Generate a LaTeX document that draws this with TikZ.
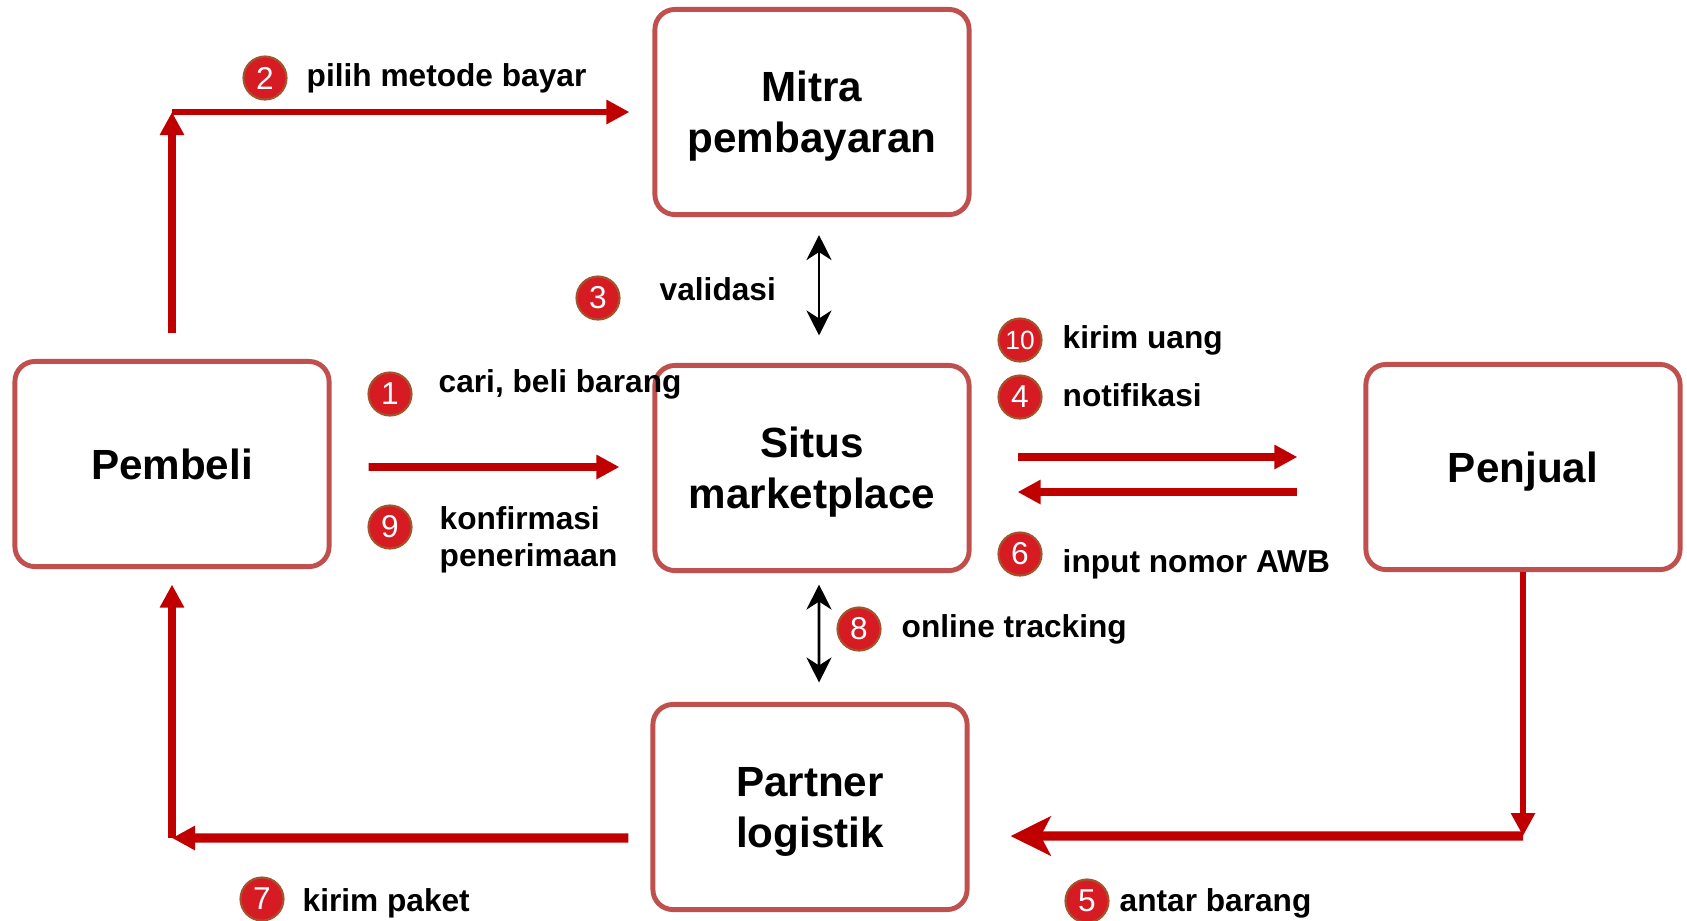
\documentclass[tikz,border=0pt]{standalone}
\usepackage{fontspec}
\setmainfont{Liberation Sans}
\usepackage{xcolor}
\usetikzlibrary{arrows.meta}
\usetikzlibrary{positioning}
\definecolor{boxred}{RGB}{192,80,77}
\definecolor{arrred}{RGB}{192,0,0}
\definecolor{badgered}{RGB}{215,27,35}
\definecolor{badgeline}{RGB}{163,84,45}
\tikzset{
  box/.style={draw=boxred,line width=1.4pt,rounded corners=0.2cm,minimum width=3.14cm,minimum height=2.05cm,align=center,text depth=0pt,font=\bfseries\fontsize{12}{14.5}\selectfont},
  badge/.style={circle,fill=badgered,draw=badgeline,line width=0.6pt,minimum size=0.43cm,inner sep=0pt,text=white,font=\fontsize{9}{10}\selectfont},
  lbl/.style={anchor=base west,inner sep=0pt,align=left,font=\bfseries\fontsize{9}{10.3}\selectfont},
  tri/.style={-{Triangle[length=0.23cm,width=0.23cm]}},
  flow/.style={draw=arrred,line width=2.2pt,tri},
  bigflow/.style={draw=arrred,line width=2.6pt,-{Stealth[length=0.4cm,width=0.39cm,inset=0.1cm]}},
  dbl/.style={draw=black,line width=0.8pt,{Stealth[length=0.25cm,width=0.25cm,inset=0.08cm]}-{Stealth[length=0.25cm,width=0.25cm,inset=0.08cm]}}
}
\begin{document}
\begin{tikzpicture}[x=0.01cm,y=-0.01cm]
\useasboundingbox (0,0) rectangle (1687,920);
\node[box] (mitra) at (812,112) {Mitra\\pembayaran};
\node[box] (pembeli) at (172,464) {Pembeli};
\node[box] (situs) at (812,468) {Situs\\marketplace};
\node[box] (penjual) at (1523,467) {Penjual};
\node[box] (partner) at (810,807) {Partner\\logistik};
\coordinate (kiriatas) at (172,112);
\coordinate (kiribawah) at (172,838);
\coordinate (kananbawah) at (1523,836);
\draw[flow,line width=2pt] ([yshift=0.255cm]pembeli.north) to (kiriatas);
\draw[flow,line width=1.7pt] (kiriatas) to ([xshift=-0.23cm]mitra.west);
\draw[flow] ([xshift=0.37cm,yshift=-0.03cm]pembeli.east) to ([xshift=-0.33cm,yshift=0.01cm]situs.west);
\draw[flow] ([xshift=0.46cm,yshift=0.11cm]situs.east) to ([xshift=-0.66cm,yshift=0.1cm]penjual.west);
\draw[flow] ([xshift=-0.66cm,yshift=-0.25cm]penjual.west) to ([xshift=0.46cm,yshift=-0.24cm]situs.east);
\draw[dbl] ([xshift=0.07cm,yshift=-0.18cm]mitra.south) to ([xshift=0.07cm,yshift=0.275cm]situs.north);
\draw[dbl] ([xshift=0.07cm,yshift=-0.115cm]situs.south) to ([xshift=0.09cm,yshift=0.195cm]partner.north);
\draw[bigflow] (kananbawah) to ([xshift=0.41cm,yshift=-0.29cm]partner.east);
\draw[flow,line width=1.8pt] (penjual.south) to (kananbawah);
\draw[flow,line width=2.6pt] ([xshift=-0.22cm,yshift=-0.31cm]partner.west) to (kiribawah);
\draw[flow,line width=2pt] (kiribawah) to ([yshift=-0.155cm]pembeli.south);
\node[badge] (n1) at (390,394) {1};
\node[lbl] (t1) at (438,392) {cari, beli barang};
\node[badge] (n2) at (265,78) {2};
\node[lbl] (t2) at (306,86) {pilih metode bayar};
\node[badge] (n3) at (598,298) {3};
\node[lbl] (t3) at (659,300) {validasi};
\node[badge] (n4) at (1020,397) {4};
\node[lbl] (t4) at (1062,406) {notifikasi};
\node[badge] (n5) at (1087,901) {5};
\node[lbl] (t5) at (1119,911) {antar barang};
\node[badge] (n6) at (1020,554) {6};
\node[lbl] (t6) at (1062,572) {input nomor AWB};
\node[badge] (n7) at (262,899) {7};
\node[lbl] (t7) at (302,911) {kirim paket};
\node[badge] (n8) at (859,629) {8};
\node[lbl] (t8) at (901,637) {online tracking};
\node[badge] (n9) at (390,527) {9};
\node[lbl] (t9) at (439,566) {konfirmasi\\penerimaan};
\node[badge,font=\fontsize{7.5}{9}\selectfont] (n10) at (1020,340) {10};
\node[lbl] (t10) at (1062,348) {kirim uang};
\end{tikzpicture}
\end{document}
